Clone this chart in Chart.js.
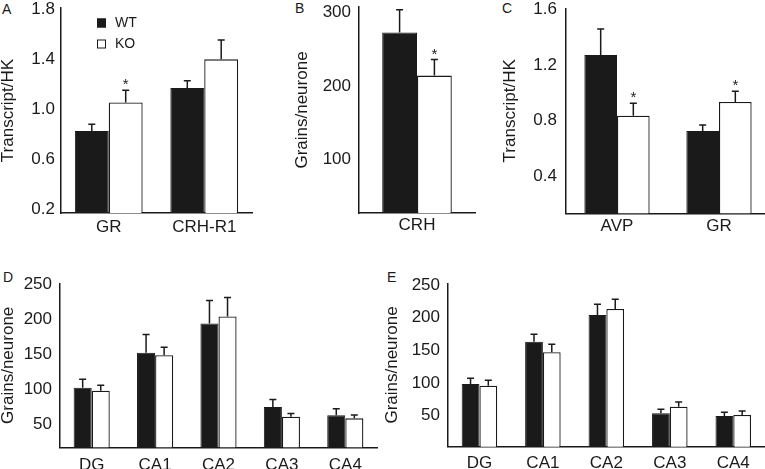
<!DOCTYPE html>
<html>
<head>
<meta charset="utf-8">
<script src="https://cdn.jsdelivr.net/npm/chart.js@4.4.1/dist/chart.umd.min.js"></script>
<style>
html,body{margin:0;padding:0;background:#fff;width:765px;height:469px;overflow:hidden;position:relative}
canvas{position:absolute;display:block}
.tag{position:absolute;font:14px/14px 'Liberation Sans',Arial,sans-serif;color:#1a1a1a}
</style>
</head>
<body>
<div class="tag" style="left:2px;top:2px">A</div>
<div class="tag" style="left:295px;top:1px">B</div>
<div class="tag" style="left:502px;top:1px">C</div>
<div class="tag" style="left:3px;top:270px">D</div>
<div class="tag" style="left:387px;top:270px">E</div>

<canvas id="cA" width="253" height="240" style="left:0;top:0"></canvas>
<canvas id="cB" width="186" height="240" style="left:290px;top:0"></canvas>
<canvas id="cC" width="272" height="240" style="left:500px;top:0"></canvas>
<canvas id="cD" width="378" height="194" style="left:0;top:275px"></canvas>
<canvas id="cE" width="385" height="194" style="left:380px;top:275px"></canvas>

<script>
const seriesNames = ['WT', 'KO'];

// A - transcript/HK
const catsA = ['GR', 'CRH-R1'];
const wtA = [0.825, 1.17];
const koA = [1.055, 1.40];
const wtSemA = [0.055, 0.058];
const koSemA = [0.098, 0.155];
const sigA = [true, false];
const ticksA = [0.2, 0.6, 1.0, 1.4, 1.8];

// B - CRH grains/neurone
const catsB = ['CRH'];
const wtB = [273];
const koB = [214];
const wtSemB = [31];
const koSemB = [22];
const sigB = [true];
const ticksB = [100, 200, 300];

// C - transcript/HK
const catsC = ['AVP', 'GR'];
const wtC = [1.273, 0.726];
const koC = [0.836, 0.934];
const wtSemC = [0.187, 0.043];
const koSemC = [0.089, 0.078];
const sigC = [true, true];
const ticksC = [0.4, 0.8, 1.2, 1.6];

// D / E - hippocampal regions
const catsHip = ['DG', 'CA1', 'CA2', 'CA3', 'CA4'];
const wtD = [101.8, 152.0, 194.1, 74.1, 62.2];
const koD = [97.5, 148.7, 204.1, 60.2, 57.9];
const wtSemD = [12.4, 26.3, 33.0, 11.0, 9.4];
const koSemD = [8.1, 11.4, 27.3, 4.8, 4.7];
const wtE = [98.4, 163.1, 203.9, 53.6, 49.5];
const koE = [95.8, 146.9, 213.1, 63.7, 51.0];
const wtSemE = [8.8, 11.3, 16.4, 6.2, 5.7];
const koSemE = [8.3, 12.2, 14.8, 7.2, 6.2];
const noSig = [false, false, false, false, false];
const ticksHip = [50, 100, 150, 200, 250];

const FONT = "'Liberation Sans', Arial, sans-serif";
const INK = '#1a1a1a';

// upward SEM bars with cap, plus asterisk over significant KO bars
const errBars = {
  id: 'errBars',
  afterDatasetsDraw(chart) {
    const {ctx} = chart;
    const y = chart.scales.y;
    ctx.save();
    ctx.strokeStyle = INK;
    ctx.fillStyle = INK;
    ctx.lineWidth = 1.5;
    ctx.font = '15px ' + FONT;
    ctx.textAlign = 'center';
    ctx.textBaseline = 'alphabetic';
    chart.data.datasets.forEach((ds, di) => {
      chart.getDatasetMeta(di).data.forEach((bar, i) => {
        const top = y.getPixelForValue(ds.data[i] + ds.sem[i]);
        ctx.beginPath();
        ctx.moveTo(bar.x, bar.y);
        ctx.lineTo(bar.x, top);
        ctx.moveTo(bar.x - 3.5, top);
        ctx.lineTo(bar.x + 3.5, top);
        ctx.stroke();
        if (ds.sig && ds.sig[i]) ctx.fillText('*', bar.x, top - 1);
      });
    });
    ctx.restore();
  }
};

// small legend inside panel A
const boxLegend = {
  id: 'boxLegend',
  afterDraw(chart, args, opts) {
    if (!opts.show) return;
    const {ctx, chartArea} = chart;
    const x = chartArea.left + 36, y0 = chartArea.top + 10;
    ctx.save();
    ctx.font = '14px ' + FONT;
    ctx.textBaseline = 'middle';
    chart.data.datasets.forEach((ds, i) => {
      const y = y0 + i * 21;
      ctx.fillStyle = ds.backgroundColor;
      ctx.fillRect(x, y + 0.5, 9, 9);
      ctx.strokeStyle = INK;
      ctx.lineWidth = 1;
      ctx.strokeRect(x + 0.5, y + 1, 8, 8);
      ctx.fillStyle = INK;
      ctx.fillText(ds.label, x + 18, y + 5.5);
    });
    ctx.restore();
  }
};

function panel(id, cats, wt, ko, wtSem, koSem, sig, o) {
  return new Chart(document.getElementById(id), {
    type: 'bar',
    data: {
      labels: cats,
      datasets: [
        {label: seriesNames[0], data: wt, sem: wtSem, backgroundColor: INK, borderColor: INK, borderWidth: 1,
         categoryPercentage: o.cat, barPercentage: 1},
        {label: seriesNames[1], data: ko, sem: koSem, sig: sig, backgroundColor: '#fff', borderColor: INK, borderWidth: 1.3,
         categoryPercentage: o.cat, barPercentage: 1}
      ]
    },
    options: {
      responsive: false,
      animation: false,
      layout: {padding: {top: o.top, right: o.right, left: 0, bottom: 0}},
      plugins: {legend: {display: false}, tooltip: {enabled: false}, boxLegend: {show: !!o.legend}},
      scales: {
        x: {
          grid: {display: false, drawTicks: false},
          border: {color: INK, width: 1.5},
          ticks: {color: INK, font: {family: FONT, size: 17}, padding: o.xpad},
          afterFit: s => { s.height = o.xh; s.paddingLeft = 0; s.paddingRight = 0; }
        },
        y: {
          min: o.min, max: o.max,
          grid: {display: false, drawTicks: false},
          border: {color: INK, width: 1.5},
          ticks: {color: INK, font: {family: FONT, size: 17}, padding: o.ypad,
                  callback: v => v.toFixed(o.dec)},
          afterBuildTicks: s => { s.ticks = o.ticks.map(v => ({value: v})); },
          afterFit: s => { s.width = o.yw; s.paddingTop = 0; s.paddingBottom = 0; },
          title: {display: true, text: o.title, color: INK, font: {family: FONT, size: 17, lineHeight: 1},
                  padding: {top: o.tpad, bottom: 0}}
        }
      }
    },
    plugins: [errBars, boxLegend]
  });
}

panel('cA', catsA, wtA, koA, wtSemA, koSemA, sigA,
  {cat: 0.71, top: 8, right: 1, xh: 27, yw: 61, min: 0.168, max: 1.812, ticks: ticksA, dec: 1,
   xpad: 4, ypad: 6, tpad: 0, title: 'Transcript/HK', legend: true});
panel('cB', catsB, wtB, koB, wtSemB, koSemB, sigB,
  {cat: 0.6, top: 7, right: 1, xh: 27, yw: 69, min: 26.2, max: 307.8, ticks: ticksB, dec: 0,
   xpad: 2, ypad: 8, tpad: 3.5, title: 'Grains/neurone'});
panel('cC', catsC, wtC, koC, wtSemC, koSemC, sigC,
  {cat: 0.64, top: 8.3, right: 2, xh: 26.7, yw: 66, min: 0.133, max: 1.609, ticks: ticksC, dec: 1,
   xpad: 3, ypad: 9, tpad: 1.5, title: 'Transcript/HK'});
panel('cD', catsHip, wtD, koD, wtSemD, koSemD, noSig,
  {cat: 0.57, top: 8.3, right: 1, xh: 21.7, yw: 60, min: 16.3, max: 251.9, ticks: ticksHip, dec: 0,
   xpad: 7.5, ypad: 8, tpad: 0, title: 'Grains/neurone'});
panel('cE', catsHip, wtE, koE, wtSemE, koSemE, noSig,
  {cat: 0.56, top: 8.3, right: 0, xh: 22.3, yw: 67.7, min: 2.6, max: 252.4, ticks: ticksHip, dec: 0,
   xpad: 6.4, ypad: 7.7, tpad: 3.5, title: 'Grains/neurone'});
</script>
</body>
</html>
